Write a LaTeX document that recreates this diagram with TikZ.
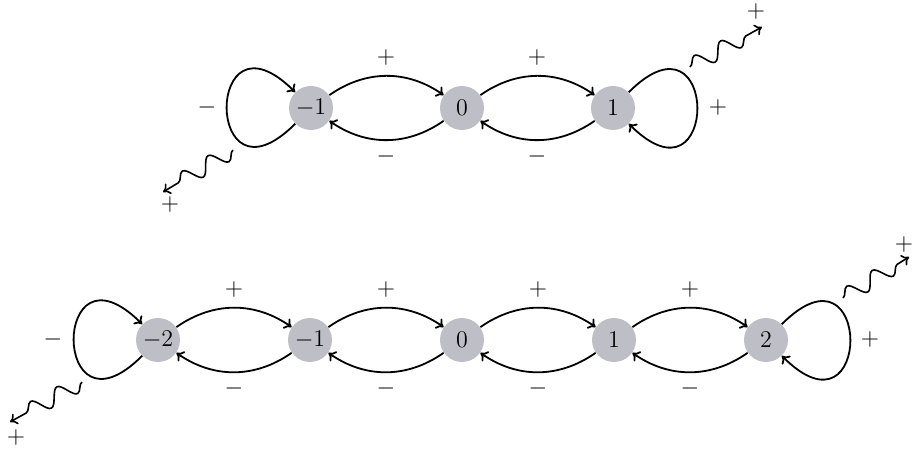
\documentclass[tikz,border=0pt]{standalone}
\usetikzlibrary{decorations.pathmorphing,arrows.meta}
\definecolor{nodegray}{RGB}{190,190,198}
\begin{document}
\begin{tikzpicture}[x=0.5pt,y=0.5pt,
  state/.style={circle,fill=nodegray,minimum size=22pt,inner sep=0pt,font=\large},
  lab/.style={inner sep=0pt,font=\large},
  arc/.style={->,line width=0.9pt,>={To[length=3.5pt,width=6pt]}},
  wave/.style={->,line width=0.8pt,>={To[length=3.5pt,width=6pt]},decorate,
    decoration={snake,segment length=15pt,amplitude=4pt,post length=3pt}}]
\useasboundingbox (0,0) rectangle (912,449);
% top row
\node[state] (tm1) at (311,341) {$-1$};
\node[state] (t0)  at (462,341) {$0$};
\node[state] (t1)  at (613,341) {$1$};
\draw[arc] (tm1) to[bend left=35] (t0);
\draw[arc] (t0) to[bend left=35] (tm1);
\draw[arc] (t0) to[bend left=35] (t1);
\draw[arc] (t1) to[bend left=35] (t0);
\draw[arc] (tm1.225) .. controls +(225:129) and +(135:129) .. (tm1.135);
\draw[arc] (t1.45) .. controls +(45:129) and +(-45:129) .. (t1.-45);
\node[lab] (tpa) at (386,391) {$+$};
\node[lab] (tma) at (386,292) {$-$};
\node[lab] (tpb) at (537,391) {$+$};
\node[lab] (tmb) at (537,292) {$-$};
\node[lab] (tml) at (207,341) {$-$};
\node[lab] (tpr) at (718,341) {$+$};
\coordinate (twa) at (233,299);
\coordinate (twb) at (163,257);
\draw[wave] (twa) -- (twb);
\node[lab] (twl) at (170,244) {$+$};
\coordinate (twc) at (690,382);
\coordinate (twd) at (762,422);
\draw[wave] (twc) -- (twd);
\node[lab] (twr) at (756,437) {$+$};
% bottom row
\node[state] (bm2) at (158,109) {$-2$};
\node[state] (bm1) at (310,109) {$-1$};
\node[state] (b0)  at (462,109) {$0$};
\node[state] (b1)  at (614,109) {$1$};
\node[state] (b2)  at (766,109) {$2$};
\foreach \a/\b/\x in {bm2/bm1/234,bm1/b0/386,b0/b1/538,b1/b2/690}{
  \draw[arc] (\a) to[bend left=35] (\b);
  \draw[arc] (\b) to[bend left=35] (\a);
  \node[lab] (p\a) at (\x,159) {$+$};
  \node[lab] (m\a) at (\x,60) {$-$};
}
\draw[arc] (bm2.225) .. controls +(225:129) and +(135:129) .. (bm2.135);
\draw[arc] (b2.45) .. controls +(45:129) and +(-45:129) .. (b2.-45);
\node[lab] (bml) at (53,109) {$-$};
\node[lab] (bpr) at (870,109) {$+$};
\coordinate (bwa) at (82,67);
\coordinate (bwb) at (10,27);
\draw[wave] (bwa) -- (bwb);
\node[lab] (bwl) at (16,11) {$+$};
\coordinate (bwc) at (843,151);
\coordinate (bwd) at (909,192);
\draw[wave] (bwc) -- (bwd);
\node[lab] (bwr) at (904,204) {$+$};
\end{tikzpicture}
\end{document}
